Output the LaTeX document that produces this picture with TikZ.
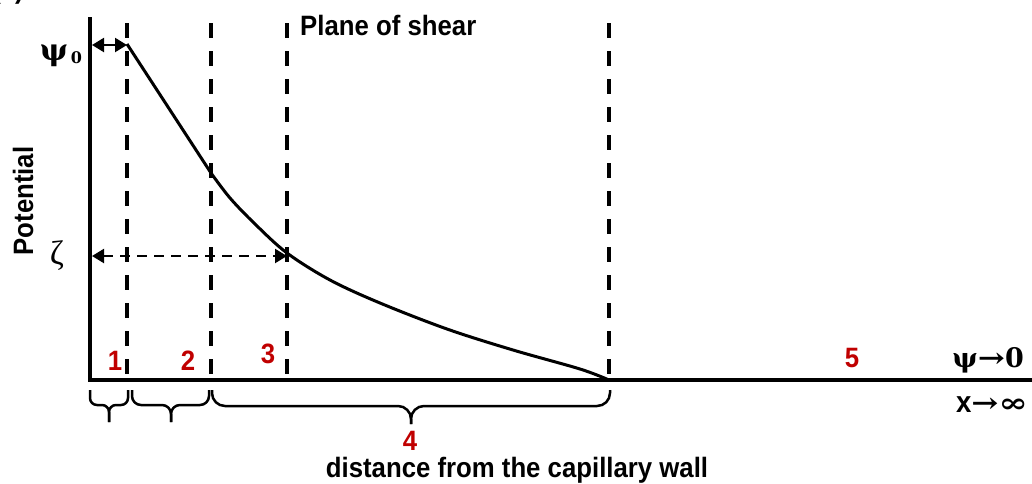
\documentclass[tikz,border=0pt]{standalone}
\usepackage{fontspec}
\usetikzlibrary{arrows.meta}
\newfontfamily\nar[FakeStretch=0.92]{Liberation Sans}
\newfontfamily\ser{Liberation Serif}
\newfontfamily\dser{DejaVu Serif}
\definecolor{numred}{RGB}{192,0,0}
\tikzset{
  axisline/.style={line width=3.5pt},
  guide/.style={line width=3.2pt, dash pattern=on 15pt off 13pt},
  curveline/.style={line width=3pt, line join=round},
  lbl/.style={font=\nar\bfseries\fontsize{28}{30}\selectfont, inner sep=0pt},
  num/.style={lbl, text=numred, anchor=base},
  greek/.style={font=\dser\bfseries\fontsize{27}{30}\selectfont, inner sep=0pt},
  brc/.style={line width=2.5pt, line join=round},
  dblarrow/.style={line width=2.2pt, {Triangle[length=12pt,width=14pt]}-{Triangle[length=12pt,width=14pt]}},
}
\begin{document}
\begin{tikzpicture}[x=1pt,y=-1pt]
\useasboundingbox (0,0) rectangle (1032,483);
% axes
\coordinate (O) at (90,380);
\coordinate (Ytop) at (90,17);
\coordinate (Xend) at (1032,380);
\draw[axisline] (Ytop) -- (O) -- (Xend);
% guide lines
\foreach \n/\x in {a/127,b/211,c/287,d/609}{
  \coordinate (g\n t) at (\x,23);
  \coordinate (g\n b) at (\x,380);
  \draw[guide] (g\n t) -- (g\n b);
}
% potential curve
\coordinate (psi0pt) at (127,44);
\coordinate (kink) at (211,173);
\draw[curveline] (psi0pt) -- (kink)
  plot[smooth, tension=0.55] coordinates {(211,173) (230,198) (255,224) (287,253) (330,280) (380,303) (447,329) (513,350) (580,369) (609,380)};
% psi0 arrow
\coordinate (pl) at (92,45);
\coordinate (pr) at (127,45);
\draw[dblarrow] (pl) -- (pr);
% zeta arrow
\coordinate (zl) at (92,256);
\coordinate (zr) at (287,256);
\draw[dblarrow, dash pattern=on 10pt off 7pt] (zl) -- (zr);
% braces
\draw[brc, rounded corners=7pt] (90,390) -- (90,405) -- (109,405) -- (109,422);
\draw[brc, rounded corners=7pt] (128,390) -- (128,405) -- (109,405) -- (109,422);
\draw[brc, rounded corners=9pt] (132,390) -- (132,405) -- (171,405) -- (171,422);
\draw[brc, rounded corners=9pt] (209,390) -- (209,405) -- (171,405) -- (171,422);
\draw[brc, rounded corners=13pt] (212,390) -- (212,406) -- (411,406) -- (411,424);
\draw[brc, rounded corners=13pt] (610,390) -- (610,406) -- (411,406) -- (411,424);
% labels
\node[lbl, anchor=base] (figlbl) at (8,-2) {(a)};
\node[lbl, anchor=base west] (plane) at (300,35) {Plane of shear};
\node[lbl, rotate=90, anchor=base] (pot) at (33,201) {Potential};
\node[greek, anchor=base] (psi0) at (61,60) {\fontsize{30}{32}\selectfont ψ\raisebox{-3pt}{\fontsize{16}{18}\selectfont\,0}};
\node[font=\ser\fontsize{34}{36}\selectfont, inner sep=0pt, anchor=base] (zeta) at (57,264) {ζ};
\node[num] (n1) at (115,370) {1};
\node[num] (n2) at (188,370) {2};
\node[num] (n3) at (268,363) {3};
\node[num] (n5) at (852,367) {5};
\node[num] (n4) at (410,450) {4};
\node[greek, anchor=base east] (psiinf) at (1024,367) {ψ\scalebox{1.2}[1]{→}0};
\node[greek, anchor=base east] (xinf) at (1028,412) {{\nar\fontsize{30}{32}\selectfont x}\scalebox{1.2}[1]{→}\scalebox{1.3}[1]{∞}};
\node[lbl, anchor=base] (dist) at (517,477) {distance from the capillary wall};
\end{tikzpicture}
\end{document}
